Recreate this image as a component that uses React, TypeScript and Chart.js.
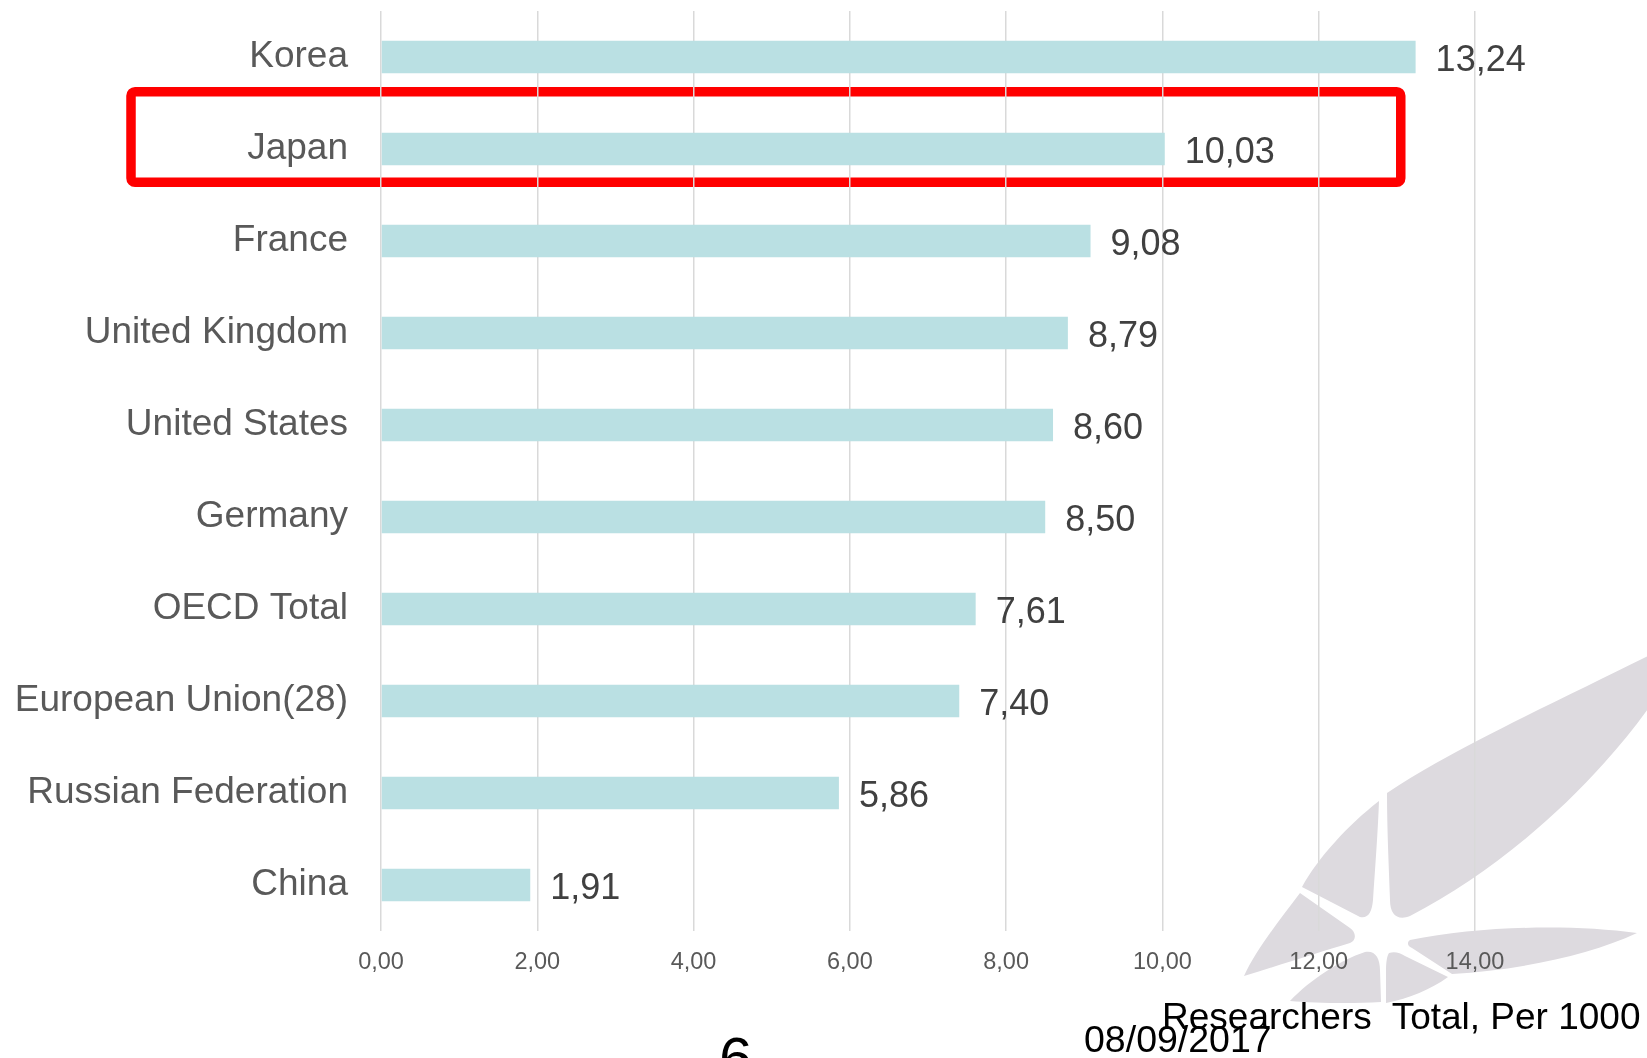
import React, { useEffect, useRef } from "react";
import { Chart, registerables } from "chart.js";

Chart.register(...registerables);

const categories = [
  "Korea",
  "Japan",
  "France",
  "United Kingdom",
  "United States",
  "Germany",
  "OECD Total",
  "European Union(28)",
  "Russian Federation",
  "China",
];
const values = [13.24, 10.03, 9.08, 8.79, 8.6, 8.5, 7.61, 7.4, 5.86, 1.91];
const xTicks = [0, 2, 4, 6, 8, 10, 12, 14];
const highlighted = "Japan";
const footerTitle = "Researchers  Total, Per 1000";
const footerDate = "08/09/2017";
const pageNumber = "6";

const FONT = "'Liberation Sans', Arial, Helvetica, sans-serif";
const fmt = (v: number) => Number(v).toFixed(2).replace(".", ",");

const valueLabelPlugin = {
  id: "valueLabels",
  afterDatasetsDraw(chart: any) {
    const ctx = chart.ctx;
    const meta = chart.getDatasetMeta(0);
    ctx.save();
    ctx.font = `36px ${FONT}`;
    ctx.fillStyle = "#404040";
    ctx.textAlign = "left";
    ctx.textBaseline = "middle";
    meta.data.forEach((bar: any, i: number) => {
      ctx.fillText(fmt(values[i]), bar.x + 20, bar.y + 4);
    });
    ctx.restore();
  },
};

const highlightPlugin = {
  id: "highlightBox",
  beforeDraw(chart: any) {
    const ctx = chart.ctx;
    const yS = chart.scales.y;
    const xS = chart.scales.x;
    const idx = categories.indexOf(highlighted);
    if (idx < 0) return;
    const cy = yS.getPixelForValue(idx) - 12;
    const halfH = 45.3;
    const left = 131;
    const right = xS.getPixelForValue(13.05);
    ctx.save();
    ctx.strokeStyle = "#ff0000";
    ctx.lineWidth = 9.5;
    ctx.beginPath();
    if (ctx.roundRect) {
      ctx.roundRect(left, cy - halfH, right - left, halfH * 2, 4);
    } else {
      ctx.rect(left, cy - halfH, right - left, halfH * 2);
    }
    ctx.stroke();
    ctx.restore();
  },
};

function Logo() {
  const fill = "#dddadf";
  return (
    <svg
      width={1647}
      height={1058}
      style={{ position: "absolute", left: 0, top: 0, zIndex: 0 }}
    >
      <path
        fill={fill}
        d="M1387,793 C1450,750 1560,700 1650,655 L1650,706 C1590,790 1500,870 1410,916 C1398,921 1390,915 1390,900 C1389,870 1387,830 1387,793 Z"
      />
      <path
        fill={fill}
        d="M1379,801 C1348,825 1318,858 1302,887 L1360,917 C1368,919 1372,912 1373,900 C1375,870 1378,830 1379,801 Z"
      />
      <path
        fill={fill}
        d="M1300,893 C1278,922 1256,950 1244,976 C1280,965 1320,952 1350,943 C1357,940 1356,932 1350,928 Z"
      />
      <path
        fill={fill}
        d="M1290,1001 C1310,980 1340,960 1365,952 C1375,950 1380,958 1380,970 L1381,1002 C1350,1004 1315,1003 1290,1001 Z"
      />
      <path
        fill={fill}
        d="M1389,953 C1395,951 1400,953 1405,956 L1448,977 C1430,990 1410,998 1386,1003 L1386,970 C1386,962 1387,956 1389,953 Z"
      />
      <path
        fill={fill}
        d="M1410,940 C1480,926 1570,924 1637,933 C1590,955 1520,970 1452,974 L1412,948 C1407,946 1407,942 1410,940 Z"
      />
    </svg>
  );
}

export default function App() {
  const canvasRef = useRef<HTMLCanvasElement | null>(null);

  useEffect(() => {
    document.body.style.margin = "0";
    const canvas = canvasRef.current;
    if (!canvas) return;
    const chart = new Chart(canvas, {
      type: "bar",
      data: {
        labels: categories,
        datasets: [
          {
            data: values,
            backgroundColor: "#bae0e3",
            borderWidth: 0,
            categoryPercentage: 1,
            barPercentage: 0.355,
          },
        ],
      },
      options: {
        indexAxis: "y",
        responsive: false,
        animation: false,
        devicePixelRatio: 1,
        layout: { padding: { top: 11, right: 172, bottom: 0, left: 0 } },
        plugins: {
          legend: { display: false },
          tooltip: { enabled: false },
        },
        scales: {
          x: {
            type: "linear",
            min: 0,
            max: 14,
            afterBuildTicks: (s: any) => {
              s.ticks = xTicks.map((v) => ({ value: v }));
            },
            ticks: {
              callback: (v: any) => fmt(v),
              color: "#595959",
              font: { family: FONT, size: 23.5 },
              padding: 17,
              maxRotation: 0,
              autoSkip: false,
            },
            grid: { color: "#d9d9d9", lineWidth: 1.5, drawTicks: false },
            border: { display: false },
            afterFit: (s: any) => {
              s.height = 127;
              s.paddingLeft = 0;
              s.paddingRight = 0;
            },
          },
          y: {
            ticks: {
              color: "#595959",
              font: { family: FONT, size: 37 },
              padding: 33,
              autoSkip: false,
            },
            grid: { display: false, drawTicks: false },
            border: { display: false },
            afterFit: (s: any) => {
              s.width = 381;
              s.paddingTop = 0;
              s.paddingBottom = 0;
            },
          },
        },
      } as any,
      plugins: [highlightPlugin, valueLabelPlugin],
    });
    return () => chart.destroy();
  }, []);

  return (
    <div
      style={{
        position: "relative",
        width: 1647,
        height: 1058,
        overflow: "hidden",
        background: "#ffffff",
        fontFamily: FONT,
      }}
    >
      <Logo />
      <canvas
        ref={canvasRef}
        width={1647}
        height={1058}
        style={{ position: "absolute", left: 0, top: 0, zIndex: 1 }}
      />
      <div
        style={{
          position: "absolute",
          left: 1162,
          top: 998,
          fontSize: 37,
          lineHeight: "37px",
          color: "#000",
          whiteSpace: "pre",
          zIndex: 2,
        }}
      >
        {footerTitle}
      </div>
      <div
        style={{
          position: "absolute",
          left: 1084,
          top: 1021,
          fontSize: 37.5,
          lineHeight: "37.5px",
          color: "#000",
          whiteSpace: "pre",
          zIndex: 2,
        }}
      >
        {footerDate}
      </div>
      <div
        style={{
          position: "absolute",
          left: 719,
          top: 1029,
          fontSize: 60,
          lineHeight: "60px",
          color: "#000",
          zIndex: 2,
        }}
      >
        {pageNumber}
      </div>
    </div>
  );
}
